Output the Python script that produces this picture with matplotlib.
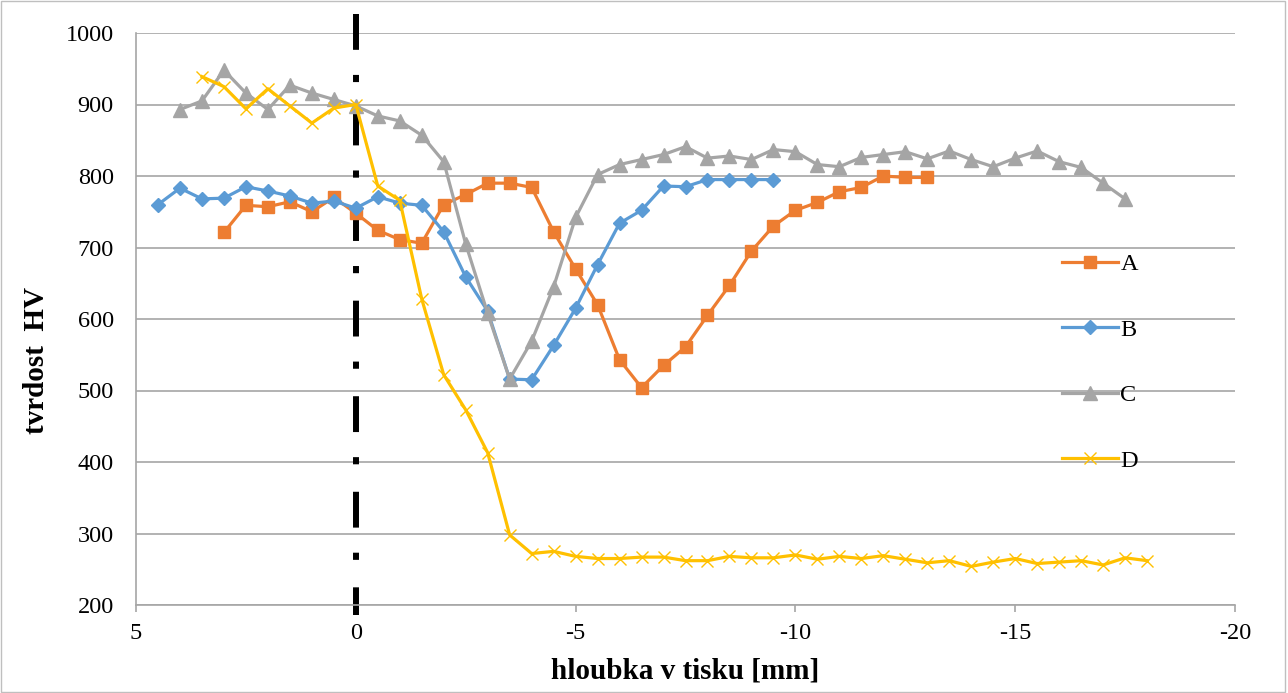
import numpy as np
import matplotlib.pyplot as plt
from matplotlib.patches import Rectangle

plt.rcParams['font.family'] = ['Liberation Serif', 'DejaVu Serif']
plt.rcParams['axes.unicode_minus'] = False

# series A (orange squares)
x_a = [3, 2.5, 2, 1.5, 1, 0.5, 0, -0.5, -1, -1.5, -2, -2.5, -3, -3.5, -4, -4.5, -5, -5.5,
       -6, -6.5, -7, -7.5, -8, -8.5, -9, -9.5, -10, -10.5, -11, -11.5, -12, -12.5, -13]
y_a = [721, 759, 757, 764, 750, 770, 748, 724, 711, 706, 760, 774, 790, 790, 784, 722, 670, 620,
       543, 504, 535, 561, 605, 647, 695, 730, 752, 763, 778, 784, 800, 798, 798]

# series B (blue diamonds)
x_b = [4.5, 4, 3.5, 3, 2.5, 2, 1.5, 1, 0.5, 0, -0.5, -1, -1.5, -2, -2.5, -3, -3.5, -4, -4.5,
       -5, -5.5, -6, -6.5, -7, -7.5, -8, -8.5, -9, -9.5]
y_b = [760, 783, 768, 769, 785, 779, 772, 762, 765, 755, 771, 762, 759, 722, 659, 611, 516, 515, 563,
       615, 676, 734, 752, 786, 785, 795, 795, 795, 795]

# series C (gray triangles)
x_c = [4, 3.5, 3, 2.5, 2, 1.5, 1, 0.5, 0, -0.5, -1, -1.5, -2, -2.5, -3, -3.5, -4, -4.5, -5,
       -5.5, -6, -6.5, -7, -7.5, -8, -8.5, -9, -9.5, -10, -10.5, -11, -11.5, -12, -12.5, -13,
       -13.5, -14, -14.5, -15, -15.5, -16, -16.5, -17, -17.5]
y_c = [893, 905, 948, 916, 893, 927, 916, 907, 898, 884, 877, 857, 820, 705, 608, 516, 569, 645, 742,
       802, 816, 823, 830, 841, 825, 828, 823, 837, 834, 816, 813, 826, 830, 834, 824,
       835, 823, 813, 825, 835, 820, 812, 790, 768]

# series D (yellow crosses)
x_d = [3.5, 3, 2.5, 2, 1.5, 1, 0.5, 0, -0.5, -1, -1.5, -2, -2.5, -3, -3.5, -4, -4.5, -5, -5.5,
       -6, -6.5, -7, -7.5, -8, -8.5, -9, -9.5, -10, -10.5, -11, -11.5, -12, -12.5, -13, -13.5,
       -14, -14.5, -15, -15.5, -16, -16.5, -17, -17.5, -18]
y_d = [939, 925, 894, 922, 898, 874, 895, 900, 786, 766, 628, 522, 473, 413, 298, 272, 275, 268, 265,
       265, 267, 267, 262, 262, 268, 266, 266, 270, 264, 268, 265, 269, 264, 259, 262,
       254, 260, 265, 258, 260, 262, 256, 266, 262]

fig = plt.figure(figsize=(12.88, 6.93), dpi=100)
ax = fig.add_axes([136 / 1288, 88 / 693, (1235 - 136) / 1288, (605 - 33) / 693])

grid_col = '#A6A6A6'

# zero line, dash-dot, sticks out past the plot area
# (dashes are in units of linewidth)
ax.plot([0, 0], [1027, 186], color='black', lw=4.3, dashes=(6.0, 4.2, 1.2, 4.6),
        solid_capstyle='butt', dash_capstyle='butt', clip_on=False, zorder=2)

ax.plot(x_a, y_a, color='#ED7D31', lw=2.3, marker='s', ms=9, label='A', zorder=3)
ax.plot(x_b, y_b, color='#5B9BD5', lw=2.3, marker='D', ms=7, label='B', zorder=3)
ax.plot(x_c, y_c, color='#A5A5A5', lw=2.3, marker='^', ms=9.5, label='C', zorder=3)
ax.plot(x_d, y_d, color='#FFC000', lw=2.3, marker='x', ms=9, mew=1.0, label='D', zorder=3)

ax.set_xlim(5, -20)
ax.set_ylim(200, 1000)
ax.set_xticks([5, 0, -5, -10, -15, -20])
ax.set_yticks(np.arange(200, 1001, 100))
ax.yaxis.grid(True, color=grid_col, lw=1.2)
ax.set_axisbelow(True)

for side in ['top', 'right']:
    ax.spines[side].set_visible(False)
for side in ['left', 'bottom']:
    ax.spines[side].set_color(grid_col)
    ax.spines[side].set_linewidth(1.2)
ax.tick_params(axis='both', direction='out', color=grid_col, labelsize=17.5, width=1.2)
ax.tick_params(axis='x', length=5, pad=8)
ax.tick_params(axis='y', length=0, pad=16)

ax.set_xlabel('hloubka v tisku [mm]', fontsize=21, fontweight='bold', labelpad=10)
ax.set_ylabel('tvrdost  HV', fontsize=21, fontweight='bold')
ax.yaxis.set_label_coords(-86 / 1099, 245 / 572)

ax.legend(loc='upper left', bbox_to_anchor=(1050 / 1288, 1 - 241 / 693),
          bbox_transform=fig.transFigure, frameon=False, fontsize=17.5,
          handlelength=2.3, handletextpad=0.1, labelspacing=1.79, borderpad=0)

# thin frame round the whole picture
fig.patches.append(Rectangle((0.001, 0.001), 0.997, 0.997, transform=fig.transFigure,
                             fill=False, edgecolor='#BFBFBF', lw=1))

fig.savefig('out.png', dpi=100)
